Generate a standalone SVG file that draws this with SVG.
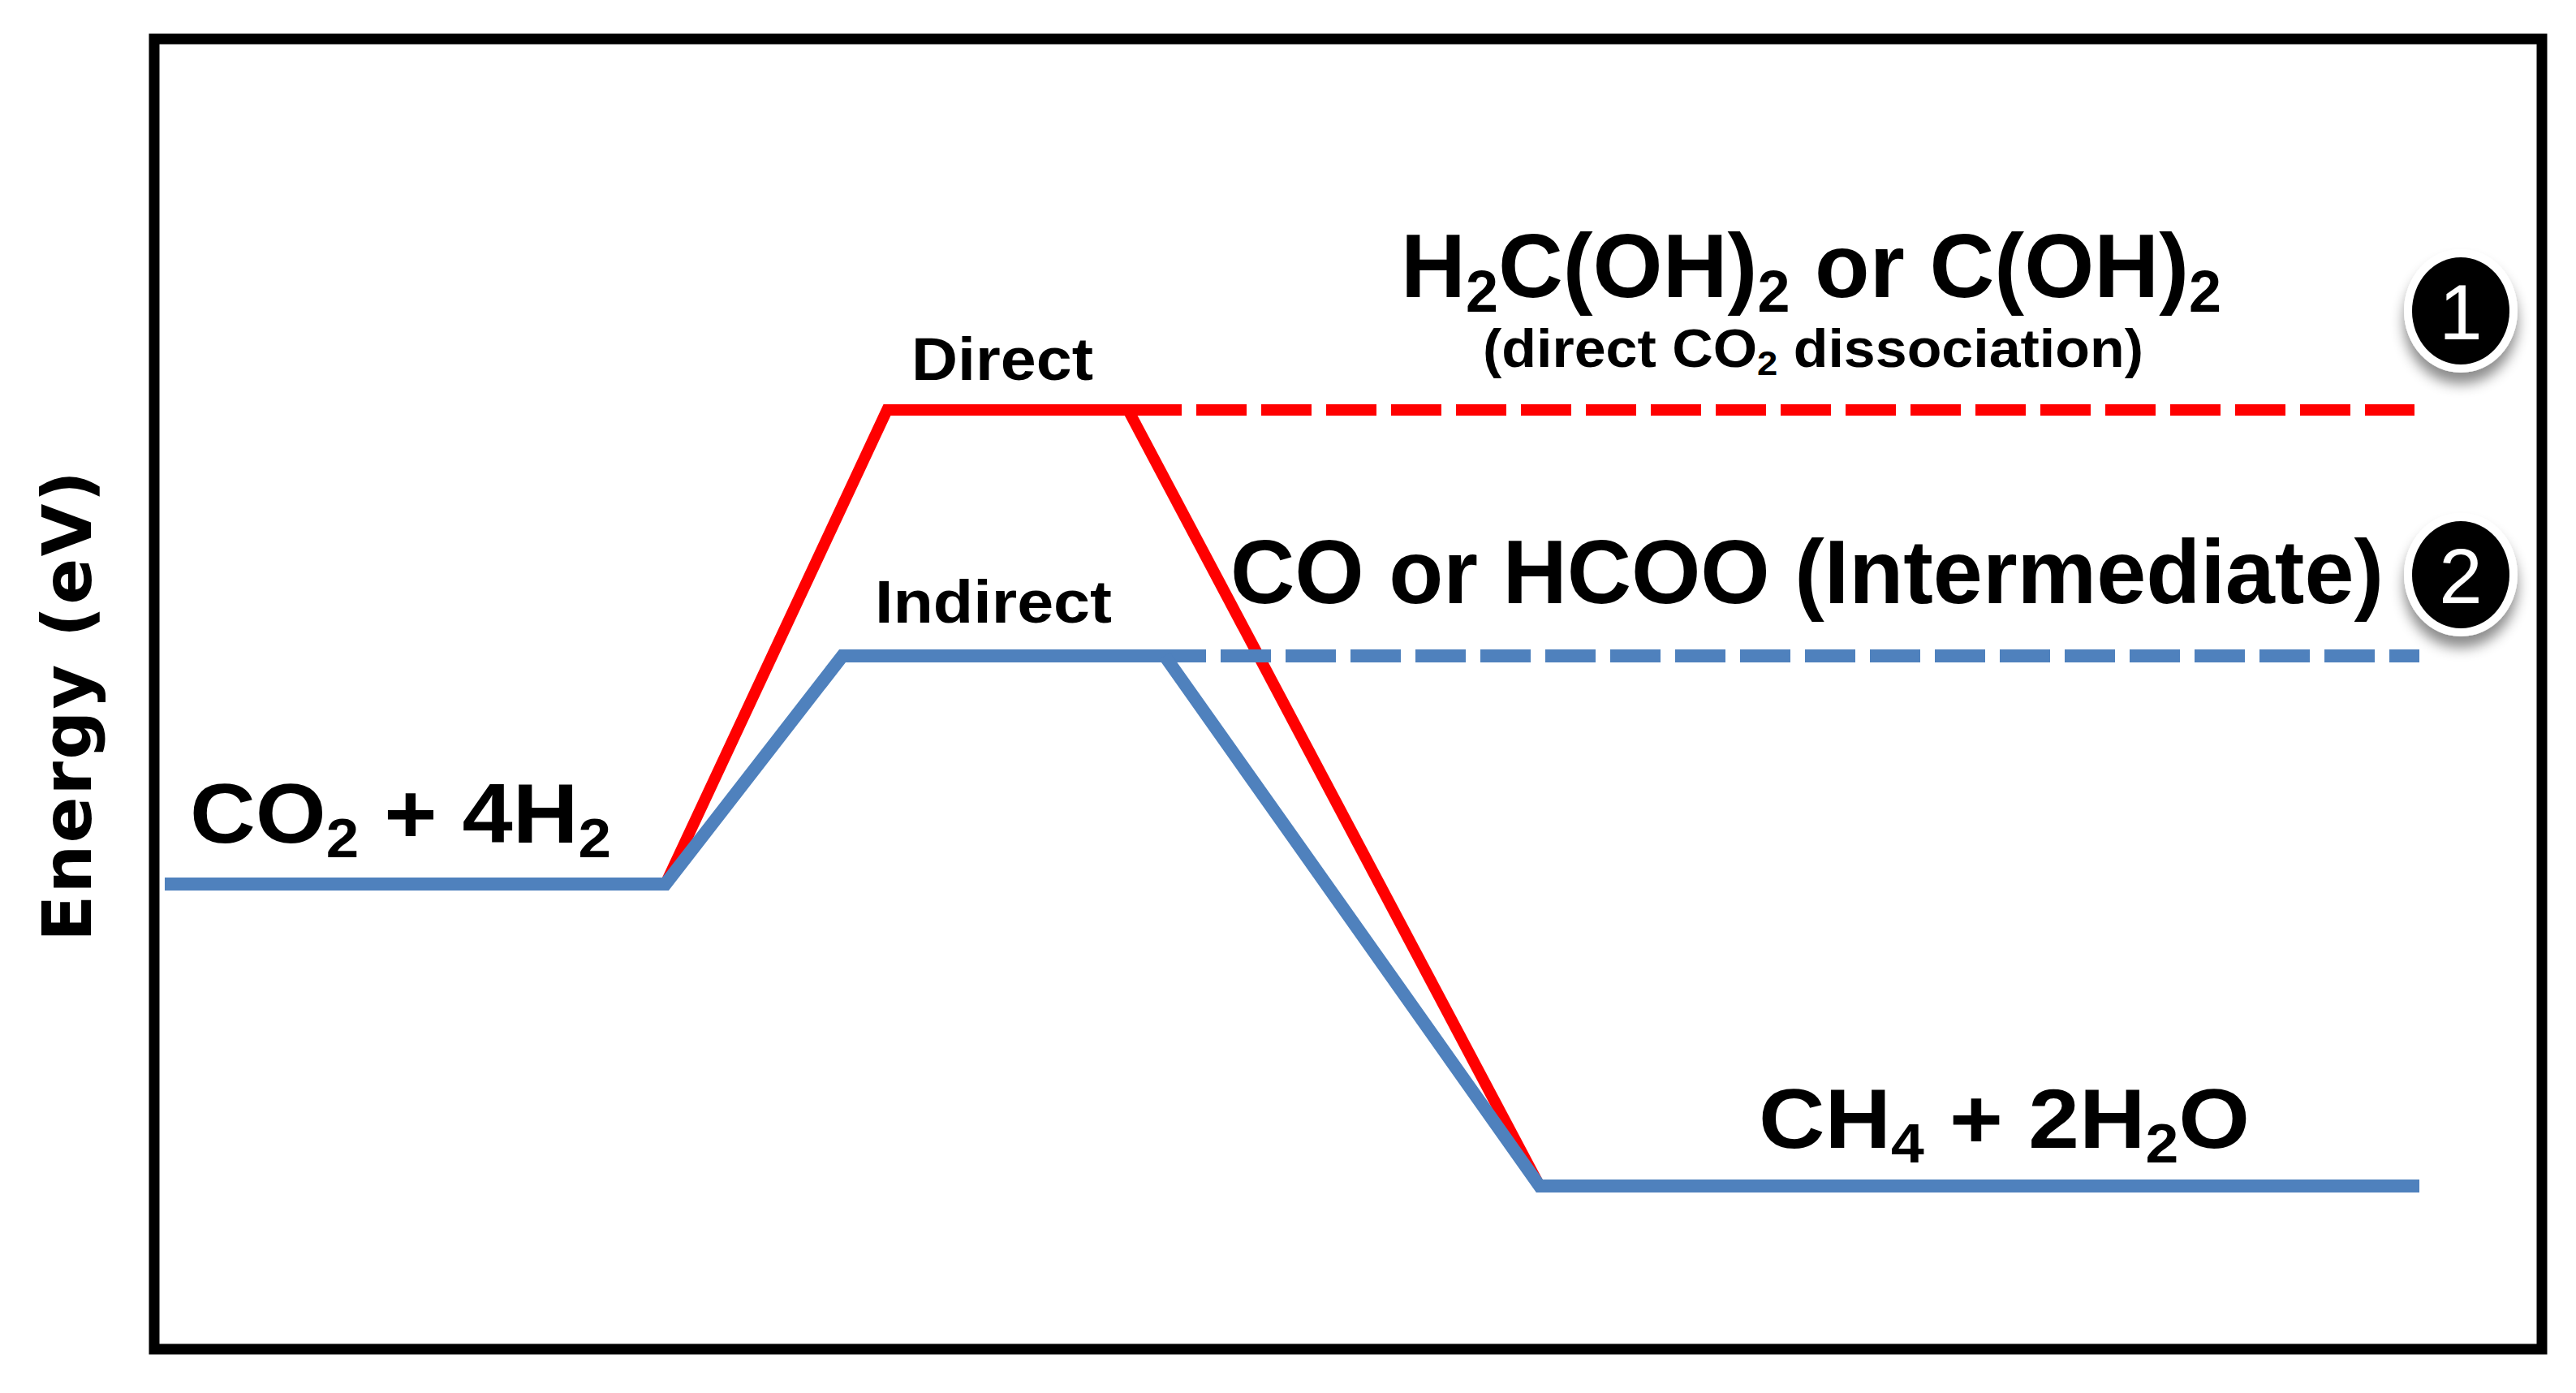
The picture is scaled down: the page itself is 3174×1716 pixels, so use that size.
<svg xmlns="http://www.w3.org/2000/svg" width="3174" height="1716" viewBox="0 0 3174 1716">
<style>
.t{font-family:"Liberation Sans Narrow","Liberation Sans",Arial,sans-serif;font-weight:bold;fill:#000}
.s{font-size:65%}
.blue{stroke:#4f81bd;stroke-width:16;fill:none}
.red{stroke:#ff0000;stroke-width:14;fill:none}
</style>
<defs>
<filter id="sh" x="-50%" y="-50%" width="200%" height="200%"><feDropShadow dx="0" dy="14" stdDeviation="8" flood-color="#000" flood-opacity="0.45"/></filter>
</defs>
<rect width="3174" height="1716" fill="#fff"/>
<rect id="frame" x="190" y="48" width="2942" height="1614" fill="none" stroke="#000" stroke-width="13"/>
<g id="connectors">
<polyline class="red" points="820,1089 1093,505 1394,505"/>
<line class="red" x1="1394" y1="505" x2="2975" y2="505" stroke-dasharray="62 18"/>
<line class="red" x1="1390" y1="505" x2="1897" y2="1461"/>
<polyline class="blue" points="203,1089 820,1089 1038,808 1424,808"/>
<line class="blue" x1="1424" y1="808" x2="2981" y2="808" stroke-dasharray="62 18"/>
<polyline class="blue" points="1435,808 1897,1461 2981,1461"/>
</g>
<g id="labels">
<text class="t" x="1726" y="366" font-size="112" textLength="1011" lengthAdjust="spacingAndGlyphs">H<tspan class="s" dy="18">2</tspan><tspan dy="-18">C(OH)</tspan><tspan class="s" dy="18">2</tspan><tspan dy="-18"> or C(OH)</tspan><tspan class="s" dy="18">2</tspan></text>
<text class="t" x="1827" y="452" font-size="66" textLength="814" lengthAdjust="spacingAndGlyphs">(direct CO<tspan class="s" dy="10">2</tspan><tspan dy="-10"> dissociation)</tspan></text>
<text class="t" x="1123" y="468" font-size="74" textLength="224" lengthAdjust="spacingAndGlyphs">Direct</text>
<text class="t" x="1078" y="767" font-size="74" textLength="292" lengthAdjust="spacingAndGlyphs">Indirect</text>
<text class="t" x="1516" y="743" font-size="112" textLength="1421" lengthAdjust="spacingAndGlyphs">CO or HCOO (Intermediate)</text>
<text class="t" x="234" y="1038" font-size="104" textLength="519" lengthAdjust="spacingAndGlyphs">CO<tspan class="s" dy="18">2</tspan><tspan dy="-18"> + 4H</tspan><tspan class="s" dy="18">2</tspan></text>
<text class="t" x="2167" y="1414" font-size="104" textLength="605" lengthAdjust="spacingAndGlyphs">CH<tspan class="s" dy="18">4</tspan><tspan dy="-18"> + 2H</tspan><tspan class="s" dy="18">2</tspan><tspan dy="-18">O</tspan></text>
<text x="112" y="870" font-family="DejaVu Sans,Verdana,sans-serif" font-weight="bold" font-size="84" text-anchor="middle" transform="rotate(-90 112 870)" textLength="580">Energy (eV)</text>
</g>
<g id="badge1" filter="url(#sh)">
<ellipse cx="3032" cy="383" rx="70" ry="76" fill="#fff"/>
<ellipse cx="3032" cy="383" rx="60" ry="66" fill="#000"/>
<text x="3032" y="418" font-family="Liberation Sans Narrow,Liberation Sans,sans-serif" font-size="96" fill="#fff" text-anchor="middle">1</text>
</g>
<g id="badge2" filter="url(#sh)">
<ellipse cx="3032" cy="708" rx="70" ry="76" fill="#fff"/>
<ellipse cx="3032" cy="708" rx="60" ry="66" fill="#000"/>
<text x="3032" y="743" font-family="Liberation Sans Narrow,Liberation Sans,sans-serif" font-size="96" fill="#fff" text-anchor="middle">2</text>
</g>
</svg>
